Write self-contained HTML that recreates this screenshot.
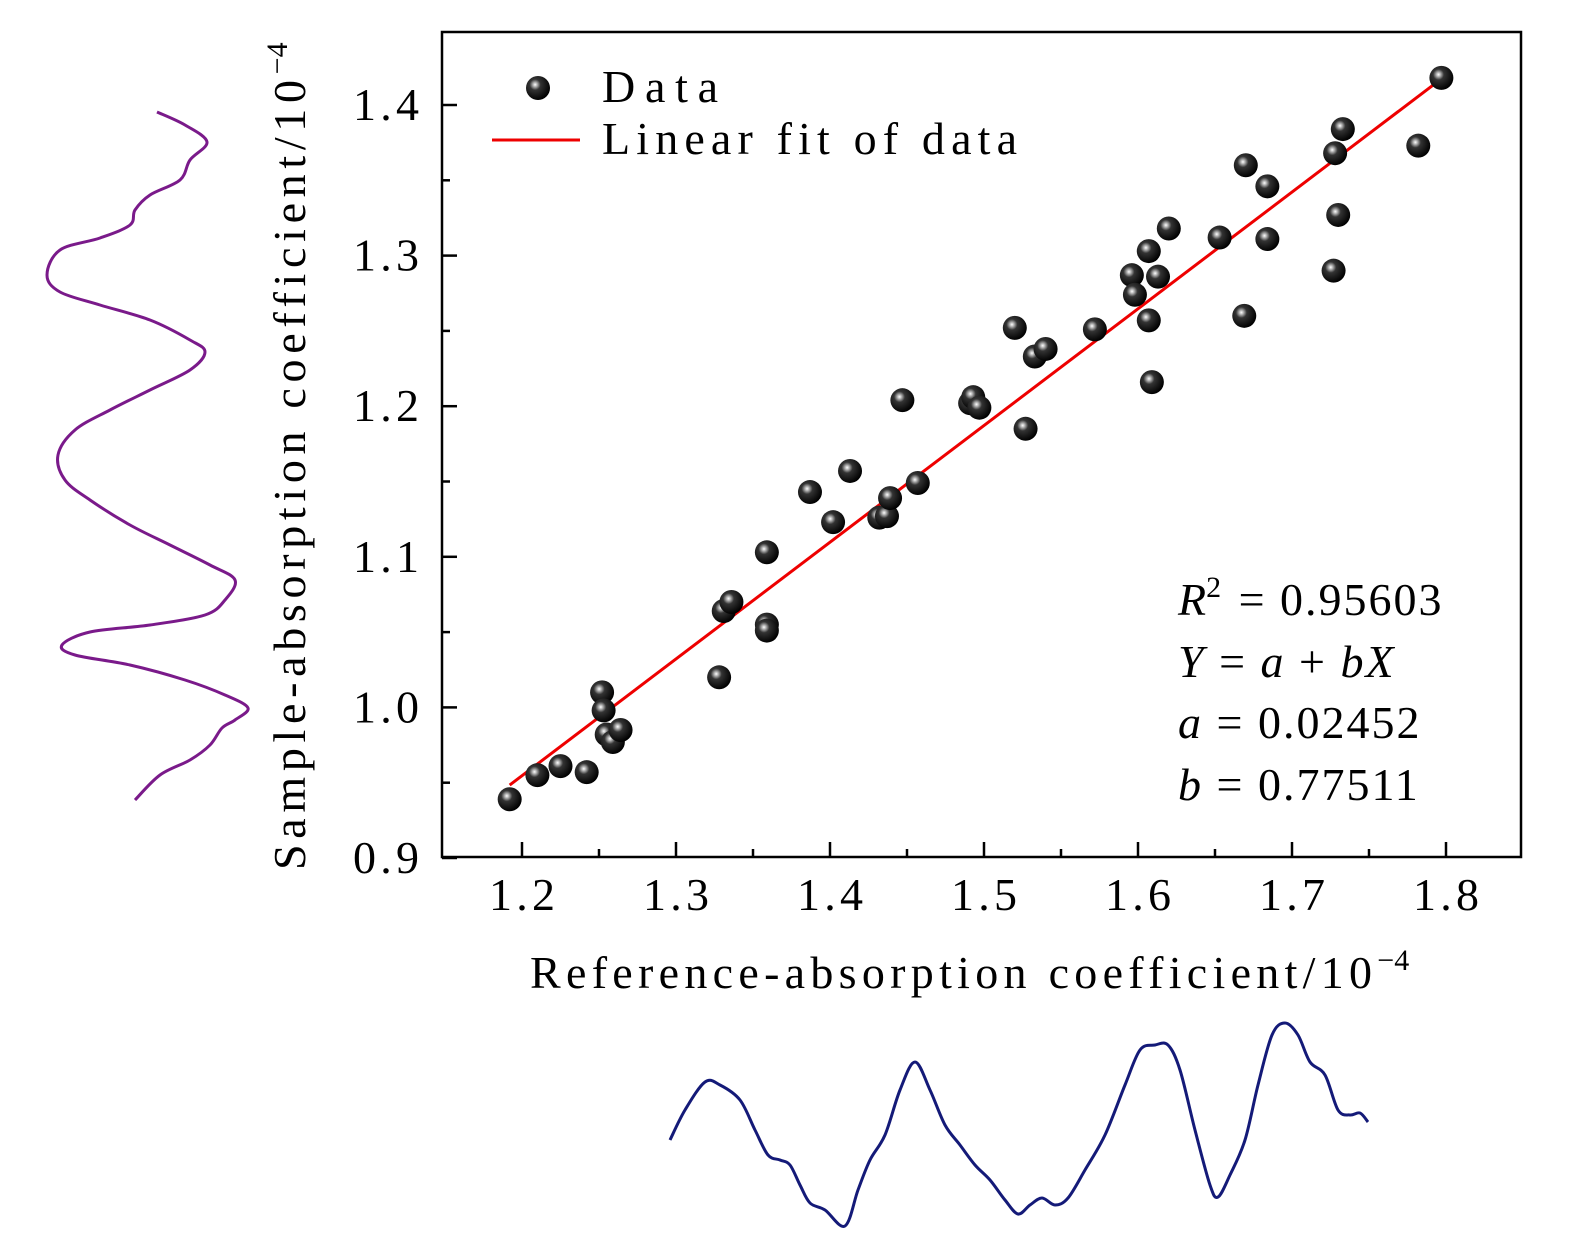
<!DOCTYPE html>
<html><head><meta charset="utf-8"><style>
html,body{margin:0;padding:0;background:#fff;}
svg{display:block;font-family:"Liberation Serif",serif;}
</style></head><body>
<svg id="chart" width="1575" height="1240" viewBox="0 0 1575 1240" xmlns="http://www.w3.org/2000/svg">
<defs>
<radialGradient id="ball" cx="0.38" cy="0.36" r="0.65">
<stop offset="0" stop-color="#fff"/>
<stop offset="0.12" stop-color="#bbb"/>
<stop offset="0.35" stop-color="#333"/>
<stop offset="1" stop-color="#000"/>
</radialGradient>
</defs>
<g id="axes"></g>
<g id="marks"></g>
<g>
<circle cx="538" cy="88" r="12" fill="url(#ball)"/>
<text x="602" y="102" font-size="46" textLength="116" lengthAdjust="spacing">Data</text>
<line x1="492" y1="140" x2="580" y2="140" stroke="#e00" stroke-width="3"/>
<text x="602" y="154" font-size="46" textLength="415" lengthAdjust="spacing">Linear fit of data</text>
</g>
<g font-size="46">
<text x="1178" y="615"><tspan font-style="italic">R</tspan><tspan dy="-18" font-size="30">2</tspan><tspan dy="18" dx="4" letter-spacing="2"> = 0.95603</tspan></text>
<text x="1178" y="677" letter-spacing="2"><tspan font-style="italic">Y</tspan> = <tspan font-style="italic">a</tspan> + <tspan font-style="italic">bX</tspan></text>
<text x="1178" y="738" letter-spacing="2"><tspan font-style="italic">a</tspan> = 0.02452</text>
<text x="1178" y="800" letter-spacing="2"><tspan font-style="italic">b</tspan> = 0.77511</text>
</g>
<text x="530" y="988" font-size="46"><tspan textLength="842" lengthAdjust="spacing">Reference-absorption coefficient/10</tspan><tspan dy="-18" font-size="30">−4</tspan></text>
<text transform="translate(305,870) rotate(-90)" font-size="46"><tspan textLength="790" lengthAdjust="spacing">Sample-absorption coefficient/10</tspan><tspan dy="-18" font-size="30">−4</tspan></text>
<path id="ydist" fill="none" stroke="#7a1a8a" stroke-width="3" stroke-linejoin="round"/>
<path id="xdist" fill="none" stroke="#141a78" stroke-width="3" stroke-linejoin="round"/>
</svg>
<script>
const xs=[1.192,1.210,1.225,1.242,1.252,1.253,1.255,1.259,1.264,1.328,1.331,1.336,1.359,1.359,1.359,1.387,1.402,1.413,1.432,1.437,1.439,1.447,1.457,1.491,1.493,1.497,1.520,1.527,1.533,1.540,1.572,1.596,1.598,1.607,1.607,1.609,1.613,1.620,1.653,1.669,1.670,1.684,1.684,1.727,1.728,1.730,1.733,1.782,1.797];
const ys=[0.939,0.955,0.961,0.957,1.010,0.998,0.982,0.977,0.985,1.020,1.064,1.070,1.103,1.055,1.051,1.143,1.123,1.157,1.126,1.127,1.139,1.204,1.149,1.202,1.206,1.199,1.252,1.185,1.233,1.238,1.251,1.287,1.274,1.257,1.303,1.216,1.286,1.318,1.312,1.260,1.360,1.346,1.311,1.290,1.368,1.327,1.384,1.373,1.418];
const fitA=0.02452, fitB=0.77511;
const xTicks=[1.2,1.3,1.4,1.5,1.6,1.7,1.8];
const yTicks=[0.9,1.0,1.1,1.2,1.3,1.4];
const ydistPts=[[157,112],[185,125],[207,142],[190,160],[180,180],[150,195],[135,210],[130,225],[100,238],[60,250],[47,275],[60,292],[100,305],[150,320],[190,340],[205,352],[190,370],[150,390],[110,410],[75,430],[58,455],[65,480],[90,500],[130,525],[170,545],[210,565],[235,580],[225,600],[205,615],[150,625],[90,632],[62,645],[75,655],[130,665],[185,680],[225,695],[248,708],[235,720],[222,728],[210,745],[190,760],[160,775],[135,800]];
const xdistPts=[[670,1140],[685,1110],[705,1082],[720,1085],[740,1100],[755,1130],[768,1155],[780,1160],[790,1165],[800,1185],[810,1203],[825,1210],[845,1226],[858,1190],[870,1160],[885,1135],[900,1090],[915,1062],[930,1090],[945,1125],[960,1145],[975,1165],[990,1180],[1005,1200],[1018,1214],[1030,1205],[1042,1198],[1055,1205],[1068,1198],[1085,1170],[1105,1135],[1125,1085],[1140,1050],[1155,1045],[1168,1045],[1180,1070],[1195,1130],[1210,1185],[1218,1197],[1230,1175],[1245,1140],[1258,1085],[1272,1035],[1285,1023],[1298,1035],[1310,1062],[1325,1075],[1338,1110],[1350,1115],[1360,1113],[1368,1122]];

const NS="http://www.w3.org/2000/svg";
const L=442,R=1521,T=32,B=857;
const sx=v=>522+(v-1.2)*1540;
const sy=v=>858-(v-0.9)*1506;
function mk(tag,attrs,parent){const e=document.createElementNS(NS,tag);for(const k in attrs)e.setAttribute(k,attrs[k]);parent.appendChild(e);return e;}
const axes=document.getElementById('axes');
const frame=mk('rect',{x:L,y:T,width:R-L,height:B-T,fill:'none',stroke:'#000','stroke-width':2.5},axes);


xTicks.forEach((t,i)=>{
  const tk=mk('line',{x1:sx(t),x2:sx(t),y1:B,y2:B-15,stroke:'#000','stroke-width':2.5},axes);
  
  
  if(i<xTicks.length-1){const m=mk('line',{x1:sx(t+0.05),x2:sx(t+0.05),y1:B,y2:B-8,stroke:'#000','stroke-width':2.5},axes);
  
  }
  const lb=mk('text',{x:sx(t)-33,y:910,'font-size':46,textLength:66,lengthAdjust:'spacing'},axes);
  lb.textContent=t.toFixed(1);
  
  
});
yTicks.forEach((t,i)=>{
  const tk=mk('line',{x1:L,x2:L+15,y1:sy(t),y2:sy(t),stroke:'#000','stroke-width':2.5},axes);
  
  
  if(i<yTicks.length-1){const m=mk('line',{x1:L,x2:L+8,y1:sy(t+0.05),y2:sy(t+0.05),stroke:'#000','stroke-width':2.5},axes);
  
  }
  const lb=mk('text',{x:353,y:sy(t)+15,'font-size':46,textLength:66,lengthAdjust:'spacing'},axes);
  lb.textContent=t.toFixed(1);
  
  
});
const marks=document.getElementById('marks');
const x0=Math.min(...xs),x1=Math.max(...xs);
const fit=mk('line',{x1:sx(x0),y1:sy(fitA+fitB*x0),x2:sx(x1),y2:sy(fitA+fitB*x1),stroke:'#e00','stroke-width':3},marks);


xs.forEach((x,i)=>{
  const c=mk('circle',{cx:sx(x),cy:sy(ys[i]),r:12,fill:'url(#ball)'},marks);
  
  
});
function smooth(p){let d='M'+p[0][0]+','+p[0][1];for(let i=0;i<p.length-1;i++){const a=p[i-1]||p[i],b=p[i],c=p[i+1],e=p[i+2]||c;
d+=' C'+(b[0]+(c[0]-a[0])/6)+','+(b[1]+(c[1]-a[1])/6)+' '+(c[0]-(e[0]-b[0])/6)+','+(c[1]-(e[1]-b[1])/6)+' '+c[0]+','+c[1];}return d;}
document.getElementById('ydist').setAttribute('d',smooth(ydistPts));
document.getElementById('xdist').setAttribute('d',smooth(xdistPts));
</script>
</body></html>
